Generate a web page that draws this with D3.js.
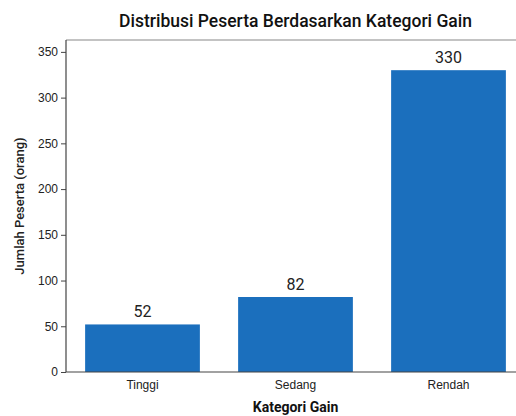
<!DOCTYPE html>
<html>
<head>
<meta charset="utf-8">
<script src="https://cdn.jsdelivr.net/npm/d3@7"></script>
<style>
  body { margin: 0; background: #fff; }
  svg { font-family: Roboto, "Liberation Sans", sans-serif; }
</style>
</head>
<body>
<svg width="516" height="416"></svg>
<script>
// data
var categories = ["Tinggi", "Sedang", "Rendah"];
var counts = [52, 82, 330];
var yTicks = [0, 50, 100, 150, 200, 250, 300, 350];

var svg = d3.select("svg");
var margin = {left: 66, top: 40, right: -9, bottom: 44};
var width = +svg.attr("width");
var height = +svg.attr("height");

var x = d3.scaleBand()
    .domain(categories)
    .range([margin.left, width - margin.right])
    .paddingInner(0.25)
    .paddingOuter(0.125);

var y = d3.scaleLinear()
    .domain([0, d3.max(counts) * 1.1])
    .range([height - margin.bottom, margin.top]);

// top spine
svg.append("line")
    .attr("x1", margin.left).attr("x2", width)
    .attr("y1", margin.top).attr("y2", margin.top)
    .attr("stroke", "#888").attr("stroke-width", 1.2);

// bars
svg.append("g").selectAll("rect")
    .data(counts)
    .enter()
    .append("rect")
        .attr("x", function(d, i) { return x(categories[i]); })
        .attr("y", function(d) { return y(d); })
        .attr("width", x.bandwidth())
        .attr("height", function(d) { return y(0) - y(d); })
        .attr("fill", "#1b6fbd");

// value labels
svg.append("g").selectAll("text")
    .data(counts)
    .enter()
    .append("text")
        .attr("x", function(d, i) { return x(categories[i]) + x.bandwidth() / 2; })
        .attr("y", function(d) { return y(d) - 7; })
        .attr("text-anchor", "middle")
        .attr("font-size", 16)
        .attr("fill", "#222")
        .text(function(d) { return d; });

// y axis
var gy = svg.append("g")
    .attr("transform", "translate(" + margin.left + ",0)")
    .call(d3.axisLeft(y).tickValues(yTicks).tickSize(5).tickPadding(3));
gy.selectAll("text").attr("font-size", 12).attr("fill", "#222")
    .attr("font-family", "'Liberation Sans', Arial, sans-serif");
gy.selectAll("line").attr("stroke", "#444");
gy.select(".domain").attr("stroke", "#444").attr("stroke-width", 1.2)
    .attr("d", "M0," + y(0) + "V" + margin.top);

// x axis
var gx = svg.append("g")
    .attr("transform", "translate(0," + y(0) + ")")
    .call(d3.axisBottom(x).tickSize(0).tickPadding(8));
gx.selectAll("text").attr("font-size", 12).attr("fill", "#222");
gx.select(".domain").attr("stroke", "#444").attr("stroke-width", 1.2)
    .attr("d", "M" + margin.left + ",0H" + width);

// title
svg.append("text")
    .attr("x", (margin.left + width - margin.right) / 2)
    .attr("y", 27)
    .attr("text-anchor", "middle")
    .attr("font-size", 17.5)
    .attr("font-weight", 500)
    .attr("fill", "#111")
    .text("Distribusi Peserta Berdasarkan Kategori Gain");

// axis titles
svg.append("text")
    .attr("x", (margin.left + width - margin.right) / 2)
    .attr("y", 412)
    .attr("text-anchor", "middle")
    .attr("font-size", 14)
    .attr("font-weight", "bold")
    .attr("fill", "#111")
    .text("Kategori Gain");

svg.append("text")
    .attr("transform", "translate(24," + ((margin.top + height - margin.bottom) / 2) + ") rotate(-90)")
    .attr("text-anchor", "middle")
    .attr("font-size", 13)
    .attr("font-weight", 500)
    .attr("fill", "#222")
    .text("Jumlah Peserta (orang)");
</script>
</body>
</html>
